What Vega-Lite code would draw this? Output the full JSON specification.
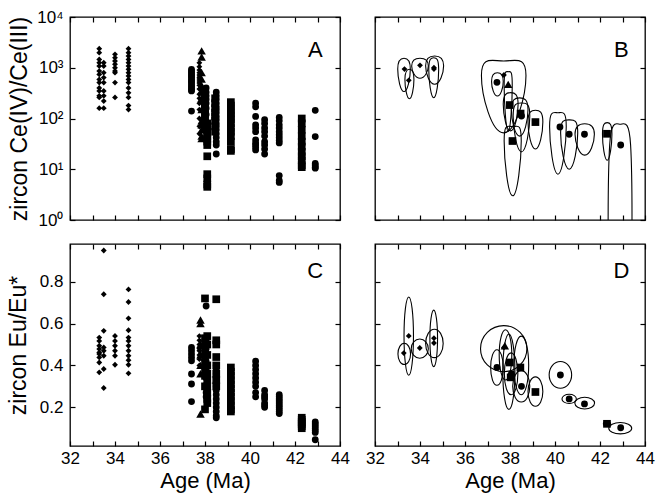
{
"$schema": "https://vega.github.io/schema/vega-lite/v6.json",
"padding": {"left": 6, "top": 7, "right": 2, "bottom": 2},
"config": {
 "font": "Liberation Sans",
 "view": {"stroke": "#000", "strokeWidth": 1.3},
 "axis": {"domain": false, "grid": false, "ticks": true, "tickColor": "#000", "tickWidth": 1.2, "tickSize": -5, "labelColor": "#000", "labelFontSize": 17, "labelFont": "Liberation Sans", "titleFont": "Liberation Sans", "titleFontSize": 22, "titleFontWeight": "normal", "titleColor": "#000", "labelFlush": false, "labelOverlap": false}
},
"datasets": {
 "tag": [{"n": 1}],
 "ce": [
  {"a":33.3,"v":2380,"g":"1"},{"a":33.3,"v":1980,"g":"1"},{"a":33.3,"v":1460,"g":"1"},{"a":33.3,"v":1260,"g":"1"},{"a":33.3,"v":1080,"g":"1"},{"a":33.3,"v":860,"g":"1"},{"a":33.3,"v":740,"g":"1"},{"a":33.3,"v":590,"g":"1"},{"a":33.3,"v":510,"g":"1"},{"a":33.3,"v":400,"g":"1"},{"a":33.3,"v":350,"g":"1"},{"a":33.3,"v":280,"g":"1"},{"a":33.3,"v":260,"g":"1"},{"a":33.3,"v":160,"g":"1"},
  {"a":33.5,"v":1260,"g":"1"},{"a":33.5,"v":1080,"g":"1"},{"a":33.5,"v":800,"g":"1"},{"a":33.5,"v":640,"g":"1"},{"a":33.5,"v":510,"g":"1"},{"a":33.5,"v":350,"g":"1"},{"a":33.5,"v":280,"g":"1"},{"a":33.5,"v":220,"g":"1"},{"a":33.5,"v":160,"g":"1"},
  {"a":34.0,"v":1840,"g":"1"},{"a":34.0,"v":1580,"g":"1"},{"a":34.0,"v":1360,"g":"1"},{"a":34.0,"v":1170,"g":"1"},{"a":34.0,"v":1000,"g":"1"},{"a":34.0,"v":860,"g":"1"},{"a":34.0,"v":800,"g":"1"},{"a":34.0,"v":510,"g":"1"},{"a":34.0,"v":260,"g":"1"},
  {"a":34.6,"v":2380,"g":"1"},{"a":34.6,"v":1980,"g":"1"},{"a":34.6,"v":1700,"g":"1"},{"a":34.6,"v":1460,"g":"1"},{"a":34.6,"v":1260,"g":"1"},{"a":34.6,"v":1080,"g":"1"},{"a":34.6,"v":930,"g":"1"},{"a":34.6,"v":800,"g":"1"},{"a":34.6,"v":690,"g":"1"},{"a":34.6,"v":590,"g":"1"},{"a":34.6,"v":510,"g":"1"},{"a":34.6,"v":400,"g":"1"},{"a":34.6,"v":320,"g":"1"},{"a":34.6,"v":260,"g":"1"},{"a":34.6,"v":180,"g":"1"},{"a":34.6,"v":150,"g":"1"},
  {"a":37.4,"v":930,"g":"2"},{"a":37.4,"v":860,"g":"2"},{"a":37.4,"v":800,"g":"2"},{"a":37.4,"v":740,"g":"2"},{"a":37.4,"v":690,"g":"2"},{"a":37.4,"v":640,"g":"2"},{"a":37.4,"v":590,"g":"2"},{"a":37.4,"v":550,"g":"2"},{"a":37.4,"v":510,"g":"2"},{"a":37.4,"v":470,"g":"2"},{"a":37.4,"v":430,"g":"2"},{"a":37.4,"v":400,"g":"2"},{"a":37.4,"v":370,"g":"2"},{"a":37.4,"v":350,"g":"2"},{"a":37.4,"v":140,"g":"2"},
  {"a":37.75,"v":1250,"g":"1"},{"a":37.75,"v":1050,"g":"1"},{"a":37.75,"v":900,"g":"1"},{"a":37.75,"v":800,"g":"1"},{"a":37.75,"v":720,"g":"1"},{"a":37.75,"v":650,"g":"1"},{"a":37.75,"v":600,"g":"1"},{"a":37.75,"v":550,"g":"1"},{"a":37.75,"v":500,"g":"1"},{"a":37.75,"v":450,"g":"1"},{"a":37.75,"v":380,"g":"1"},{"a":37.75,"v":300,"g":"1"},{"a":37.75,"v":250,"g":"1"},{"a":37.75,"v":200,"g":"1"},{"a":37.75,"v":150,"g":"1"},{"a":37.75,"v":100,"g":"1"},{"a":37.75,"v":70,"g":"1"},{"a":37.75,"v":50,"g":"1"},
  {"a":37.85,"v":2150,"g":"4"},{"a":37.85,"v":1630,"g":"4"},{"a":37.85,"v":800,"g":"4"},{"a":37.85,"v":600,"g":"4"},{"a":37.85,"v":450,"g":"4"},{"a":37.85,"v":350,"g":"4"},{"a":37.85,"v":250,"g":"4"},{"a":37.85,"v":150,"g":"4"},{"a":37.85,"v":90,"g":"4"},{"a":37.85,"v":75,"g":"4"},{"a":37.85,"v":60,"g":"4"},{"a":37.85,"v":45,"g":"4"},{"a":37.85,"v":40,"g":"4"},
  {"a":38.0,"v":350,"g":"3"},{"a":38.0,"v":300,"g":"3"},{"a":38.0,"v":260,"g":"3"},{"a":38.0,"v":230,"g":"3"},{"a":38.0,"v":200,"g":"3"},{"a":38.0,"v":180,"g":"3"},{"a":38.0,"v":160,"g":"3"},{"a":38.0,"v":140,"g":"3"},{"a":38.0,"v":120,"g":"3"},{"a":38.0,"v":100,"g":"3"},{"a":38.0,"v":85,"g":"3"},{"a":38.0,"v":70,"g":"3"},
  {"a":38.1,"v":80,"g":"3"},{"a":38.1,"v":60,"g":"3"},{"a":38.1,"v":50,"g":"3"},{"a":38.1,"v":45,"g":"3"},{"a":38.1,"v":40,"g":"3"},{"a":38.1,"v":35,"g":"3"},{"a":38.1,"v":30,"g":"3"},{"a":38.1,"v":18,"g":"3"},{"a":38.1,"v":8,"g":"3"},{"a":38.1,"v":6.6,"g":"3"},{"a":38.1,"v":5,"g":"3"},{"a":38.1,"v":4.5,"g":"3"},
  {"a":38.05,"v":400,"g":"2"},{"a":38.05,"v":330,"g":"2"},{"a":38.05,"v":280,"g":"2"},{"a":38.05,"v":240,"g":"2"},{"a":38.05,"v":200,"g":"2"},{"a":38.05,"v":160,"g":"2"},{"a":38.05,"v":120,"g":"2"},
  {"a":38.45,"v":250,"g":"3"},{"a":38.45,"v":200,"g":"3"},{"a":38.45,"v":160,"g":"3"},{"a":38.45,"v":130,"g":"3"},{"a":38.45,"v":110,"g":"3"},{"a":38.45,"v":90,"g":"3"},{"a":38.45,"v":70,"g":"3"},{"a":38.45,"v":55,"g":"3"},
  {"a":38.5,"v":330,"g":"2"},{"a":38.5,"v":280,"g":"2"},{"a":38.5,"v":240,"g":"2"},{"a":38.5,"v":200,"g":"2"},{"a":38.5,"v":170,"g":"2"},{"a":38.5,"v":150,"g":"2"},{"a":38.5,"v":130,"g":"2"},{"a":38.5,"v":110,"g":"2"},{"a":38.5,"v":95,"g":"2"},{"a":38.5,"v":80,"g":"2"},{"a":38.5,"v":70,"g":"2"},{"a":38.5,"v":60,"g":"2"},{"a":38.5,"v":50,"g":"2"},{"a":38.5,"v":42,"g":"2"},{"a":38.5,"v":35,"g":"2"},{"a":38.5,"v":30,"g":"2"},{"a":38.5,"v":20,"g":"2"},
  {"a":39.15,"v":210,"g":"3"},{"a":39.15,"v":180,"g":"3"},{"a":39.15,"v":150,"g":"3"},{"a":39.15,"v":130,"g":"3"},{"a":39.15,"v":110,"g":"3"},{"a":39.15,"v":95,"g":"3"},{"a":39.15,"v":80,"g":"3"},{"a":39.15,"v":65,"g":"3"},{"a":39.15,"v":55,"g":"3"},{"a":39.15,"v":45,"g":"3"},{"a":39.15,"v":35,"g":"3"},{"a":39.15,"v":25,"g":"3"},{"a":39.15,"v":23,"g":"3"},
  {"a":40.25,"v":200,"g":"2"},{"a":40.25,"v":170,"g":"2"},{"a":40.25,"v":110,"g":"2"},{"a":40.25,"v":75,"g":"2"},{"a":40.25,"v":65,"g":"2"},{"a":40.25,"v":55,"g":"2"},{"a":40.25,"v":38,"g":"2"},{"a":40.25,"v":33,"g":"2"},{"a":40.25,"v":30,"g":"2"},{"a":40.25,"v":27,"g":"2"},{"a":40.25,"v":24,"g":"2"},
  {"a":40.65,"v":95,"g":"2"},{"a":40.65,"v":80,"g":"2"},{"a":40.65,"v":65,"g":"2"},{"a":40.65,"v":55,"g":"2"},{"a":40.65,"v":45,"g":"2"},{"a":40.65,"v":35,"g":"2"},{"a":40.65,"v":30,"g":"2"},{"a":40.65,"v":25,"g":"2"},{"a":40.65,"v":20,"g":"2"},
  {"a":41.3,"v":105,"g":"2"},{"a":41.3,"v":90,"g":"2"},{"a":41.3,"v":75,"g":"2"},{"a":41.3,"v":65,"g":"2"},{"a":41.3,"v":55,"g":"2"},{"a":41.3,"v":48,"g":"2"},{"a":41.3,"v":42,"g":"2"},{"a":41.3,"v":37,"g":"2"},{"a":41.3,"v":33,"g":"2"},{"a":41.3,"v":7.5,"g":"2"},{"a":41.3,"v":6,"g":"2"},{"a":41.3,"v":5.5,"g":"2"},
  {"a":42.3,"v":100,"g":"3"},{"a":42.3,"v":80,"g":"3"},{"a":42.3,"v":60,"g":"3"},{"a":42.3,"v":45,"g":"3"},{"a":42.3,"v":35,"g":"3"},{"a":42.3,"v":28,"g":"3"},{"a":42.3,"v":22,"g":"3"},{"a":42.3,"v":18,"g":"3"},{"a":42.3,"v":15,"g":"3"},{"a":42.3,"v":12,"g":"3"},{"a":42.3,"v":11,"g":"3"},
  {"a":42.9,"v":145,"g":"2"},{"a":42.9,"v":44,"g":"2"},{"a":42.9,"v":13,"g":"2"},{"a":42.9,"v":12,"g":"2"},{"a":42.9,"v":11,"g":"2"},{"a":42.9,"v":10.5,"g":"2"}
 ],
 "eu": [
  {"a":33.3,"v":0.533,"g":"1"},{"a":33.3,"v":0.517,"g":"1"},{"a":33.3,"v":0.494,"g":"1"},{"a":33.3,"v":0.478,"g":"1"},{"a":33.3,"v":0.462,"g":"1"},{"a":33.3,"v":0.454,"g":"1"},{"a":33.3,"v":0.438,"g":"1"},{"a":33.3,"v":0.414,"g":"1"},{"a":33.3,"v":0.367,"g":"1"},
  {"a":33.5,"v":0.949,"g":"1"},{"a":33.5,"v":0.74,"g":"1"},{"a":33.5,"v":0.565,"g":"1"},{"a":33.5,"v":0.486,"g":"1"},{"a":33.5,"v":0.47,"g":"1"},{"a":33.5,"v":0.446,"g":"1"},{"a":33.5,"v":0.383,"g":"1"},{"a":33.5,"v":0.292,"g":"1"},
  {"a":34.0,"v":0.541,"g":"1"},{"a":34.0,"v":0.517,"g":"1"},{"a":34.0,"v":0.494,"g":"1"},{"a":34.0,"v":0.47,"g":"1"},{"a":34.0,"v":0.446,"g":"1"},{"a":34.0,"v":0.403,"g":"1"},
  {"a":34.6,"v":0.763,"g":"1"},{"a":34.6,"v":0.703,"g":"1"},{"a":34.6,"v":0.625,"g":"1"},{"a":34.6,"v":0.568,"g":"1"},{"a":34.6,"v":0.533,"g":"1"},{"a":34.6,"v":0.517,"g":"1"},{"a":34.6,"v":0.494,"g":"1"},{"a":34.6,"v":0.47,"g":"1"},{"a":34.6,"v":0.446,"g":"1"},{"a":34.6,"v":0.425,"g":"1"},{"a":34.6,"v":0.403,"g":"1"},{"a":34.6,"v":0.362,"g":"1"},
  {"a":37.4,"v":0.486,"g":"2"},{"a":37.4,"v":0.47,"g":"2"},{"a":37.4,"v":0.454,"g":"2"},{"a":37.4,"v":0.438,"g":"2"},{"a":37.4,"v":0.422,"g":"2"},{"a":37.4,"v":0.359,"g":"2"},{"a":37.4,"v":0.311,"g":"2"},{"a":37.4,"v":0.227,"g":"2"},
  {"a":37.75,"v":0.54,"g":"1"},{"a":37.75,"v":0.52,"g":"1"},{"a":37.75,"v":0.5,"g":"1"},{"a":37.75,"v":0.48,"g":"1"},{"a":37.75,"v":0.47,"g":"1"},{"a":37.75,"v":0.45,"g":"1"},{"a":37.75,"v":0.43,"g":"1"},{"a":37.75,"v":0.4,"g":"1"},
  {"a":37.8,"v":0.617,"g":"4"},{"a":37.8,"v":0.6,"g":"4"},{"a":37.8,"v":0.5,"g":"4"},{"a":37.8,"v":0.45,"g":"4"},{"a":37.8,"v":0.4,"g":"4"},{"a":37.8,"v":0.36,"g":"4"},{"a":37.8,"v":0.168,"g":"4"},
  {"a":38.0,"v":0.72,"g":"3"},{"a":38.0,"v":0.53,"g":"3"},{"a":38.0,"v":0.5,"g":"3"},{"a":38.0,"v":0.47,"g":"3"},{"a":38.0,"v":0.44,"g":"3"},{"a":38.0,"v":0.41,"g":"3"},{"a":38.0,"v":0.38,"g":"3"},{"a":38.0,"v":0.35,"g":"3"},{"a":38.0,"v":0.3,"g":"3"},{"a":38.0,"v":0.19,"g":"3"},
  {"a":38.1,"v":0.54,"g":"3"},{"a":38.1,"v":0.5,"g":"3"},{"a":38.1,"v":0.45,"g":"3"},{"a":38.1,"v":0.4,"g":"3"},{"a":38.1,"v":0.36,"g":"3"},{"a":38.1,"v":0.33,"g":"3"},{"a":38.1,"v":0.3,"g":"3"},{"a":38.1,"v":0.27,"g":"3"},{"a":38.1,"v":0.24,"g":"3"},{"a":38.1,"v":0.22,"g":"3"},
  {"a":38.05,"v":0.684,"g":"2"},{"a":38.05,"v":0.52,"g":"2"},{"a":38.05,"v":0.48,"g":"2"},{"a":38.05,"v":0.45,"g":"2"},{"a":38.05,"v":0.42,"g":"2"},{"a":38.05,"v":0.38,"g":"2"},{"a":38.05,"v":0.34,"g":"2"},{"a":38.05,"v":0.3,"g":"2"},{"a":38.05,"v":0.27,"g":"2"},{"a":38.05,"v":0.25,"g":"2"},
  {"a":38.5,"v":0.4,"g":"2"},{"a":38.5,"v":0.38,"g":"2"},{"a":38.5,"v":0.36,"g":"2"},{"a":38.5,"v":0.34,"g":"2"},{"a":38.5,"v":0.32,"g":"2"},{"a":38.5,"v":0.3,"g":"2"},{"a":38.5,"v":0.28,"g":"2"},{"a":38.5,"v":0.26,"g":"2"},{"a":38.5,"v":0.24,"g":"2"},{"a":38.5,"v":0.22,"g":"2"},{"a":38.5,"v":0.2,"g":"2"},{"a":38.5,"v":0.18,"g":"2"},{"a":38.5,"v":0.16,"g":"2"},{"a":38.5,"v":0.15,"g":"2"},
  {"a":38.5,"v":0.716,"g":"3"},{"a":38.5,"v":0.52,"g":"3"},{"a":38.5,"v":0.5,"g":"3"},{"a":38.5,"v":0.44,"g":"3"},{"a":38.5,"v":0.4,"g":"3"},{"a":38.5,"v":0.36,"g":"3"},{"a":38.5,"v":0.33,"g":"3"},{"a":38.5,"v":0.3,"g":"3"},
  {"a":39.15,"v":0.39,"g":"3"},{"a":39.15,"v":0.37,"g":"3"},{"a":39.15,"v":0.35,"g":"3"},{"a":39.15,"v":0.33,"g":"3"},{"a":39.15,"v":0.31,"g":"3"},{"a":39.15,"v":0.29,"g":"3"},{"a":39.15,"v":0.27,"g":"3"},{"a":39.15,"v":0.25,"g":"3"},{"a":39.15,"v":0.23,"g":"3"},{"a":39.15,"v":0.21,"g":"3"},{"a":39.15,"v":0.19,"g":"3"},{"a":39.15,"v":0.18,"g":"3"},
  {"a":40.25,"v":0.42,"g":"2"},{"a":40.25,"v":0.4,"g":"2"},{"a":40.25,"v":0.38,"g":"2"},{"a":40.25,"v":0.36,"g":"2"},{"a":40.25,"v":0.34,"g":"2"},{"a":40.25,"v":0.32,"g":"2"},{"a":40.25,"v":0.3,"g":"2"},{"a":40.25,"v":0.27,"g":"2"},{"a":40.25,"v":0.25,"g":"2"},
  {"a":40.65,"v":0.28,"g":"2"},{"a":40.65,"v":0.26,"g":"2"},{"a":40.65,"v":0.25,"g":"2"},{"a":40.65,"v":0.24,"g":"2"},{"a":40.65,"v":0.22,"g":"2"},{"a":40.65,"v":0.21,"g":"2"},{"a":40.65,"v":0.2,"g":"2"},
  {"a":41.3,"v":0.26,"g":"2"},{"a":41.3,"v":0.25,"g":"2"},{"a":41.3,"v":0.24,"g":"2"},{"a":41.3,"v":0.23,"g":"2"},{"a":41.3,"v":0.22,"g":"2"},{"a":41.3,"v":0.21,"g":"2"},{"a":41.3,"v":0.2,"g":"2"},{"a":41.3,"v":0.19,"g":"2"},{"a":41.3,"v":0.18,"g":"2"},{"a":41.3,"v":0.17,"g":"2"},
  {"a":42.3,"v":0.15,"g":"3"},{"a":42.3,"v":0.14,"g":"3"},{"a":42.3,"v":0.13,"g":"3"},{"a":42.3,"v":0.12,"g":"3"},{"a":42.3,"v":0.11,"g":"3"},{"a":42.3,"v":0.1,"g":"3"},
  {"a":42.9,"v":0.13,"g":"2"},{"a":42.9,"v":0.12,"g":"2"},{"a":42.9,"v":0.11,"g":"2"},{"a":42.9,"v":0.1,"g":"2"},{"a":42.9,"v":0.09,"g":"2"},{"a":42.9,"v":0.08,"g":"2"},{"a":42.9,"v":0.045,"g":"2"}
 ],
 "ceMean": [
  {"a":33.31,"v":940,"g":"1"},{"a":33.5,"v":566,"g":"1"},{"a":34.0,"v":1117,"g":"1"},{"a":34.62,"v":940,"g":"1"},{"a":34.62,"v":1000,"g":"1"},
  {"a":37.42,"v":516,"g":"2"},{"a":37.73,"v":720,"g":"1"},{"a":37.92,"v":471,"g":"4"},{"a":37.99,"v":184,"g":"3"},{"a":38.11,"v":36,"g":"3"},
  {"a":38.51,"v":112,"g":"2"},{"a":38.47,"v":125,"g":"3"},{"a":39.13,"v":85,"g":"3"},{"a":40.22,"v":68,"g":"2"},{"a":40.63,"v":49,"g":"2"},
  {"a":41.31,"v":49,"g":"2"},{"a":42.31,"v":50,"g":"3"},{"a":42.92,"v":30,"g":"2"}
 ],
 "euMean": [
  {"a":33.28,"v":0.459,"g":"1"},{"a":33.5,"v":0.541,"g":"1"},{"a":33.99,"v":0.483,"g":"1"},{"a":34.62,"v":0.53,"g":"1"},{"a":34.62,"v":0.507,"g":"1"},
  {"a":37.42,"v":0.39,"g":"2"},{"a":37.73,"v":0.486,"g":"1"},{"a":37.77,"v":0.494,"g":"4"},{"a":37.99,"v":0.414,"g":"3"},{"a":38.03,"v":0.343,"g":"3"},{"a":38.06,"v":0.36,"g":"2"},
  {"a":38.51,"v":0.3,"g":"2"},{"a":38.46,"v":0.39,"g":"3"},{"a":39.13,"v":0.273,"g":"3"},{"a":40.24,"v":0.354,"g":"2"},{"a":40.63,"v":0.24,"g":"2"},
  {"a":41.31,"v":0.216,"g":"2"},{"a":42.31,"v":0.121,"g":"3"},{"a":42.92,"v":0.102,"g":"2"}
 ],
 "ceEll": [
  {"e":"E1","k":1,"a":33.29,"v":1540},{"e":"E1","k":2,"a":33.57,"v":940},{"e":"E1","k":3,"a":33.29,"v":340},{"e":"E1","k":4,"a":33.01,"v":940},
  {"e":"E2","k":1,"a":33.53,"v":935},{"e":"E2","k":2,"a":33.73,"v":590},{"e":"E2","k":3,"a":33.53,"v":245},{"e":"E2","k":4,"a":33.33,"v":590},
  {"e":"E3","k":1,"a":34.0,"v":1536},{"e":"E3","k":2,"a":34.37,"v":1078},{"e":"E3","k":3,"a":34.0,"v":620},{"e":"E3","k":4,"a":33.63,"v":1078},
  {"e":"E4","k":1,"a":34.61,"v":1577},{"e":"E4","k":2,"a":34.83,"v":917},{"e":"E4","k":3,"a":34.61,"v":257},{"e":"E4","k":4,"a":34.39,"v":917},
  {"e":"E5","k":1,"a":34.65,"v":1706},{"e":"E5","k":2,"a":35.05,"v":1089},{"e":"E5","k":3,"a":34.65,"v":472},{"e":"E5","k":4,"a":34.25,"v":1089},
  {"e":"E6","k":1,"a":37.44,"v":798},{"e":"E6","k":2,"a":37.7,"v":538},{"e":"E6","k":3,"a":37.44,"v":278},{"e":"E6","k":4,"a":37.18,"v":538},
  {"e":"E7","k":1,"a":37.72,"v":1360},{"e":"E7","k":2,"a":38.71,"v":706},{"e":"E7","k":3,"a":37.72,"v":52},{"e":"E7","k":4,"a":36.73,"v":706},
  {"e":"E8","k":1,"a":37.92,"v":836},{"e":"E8","k":2,"a":38.1,"v":446},{"e":"E8","k":3,"a":37.92,"v":56},{"e":"E8","k":4,"a":37.74,"v":446},
  {"e":"E9","k":1,"a":38.03,"v":323},{"e":"E9","k":2,"a":38.36,"v":190},{"e":"E9","k":3,"a":38.03,"v":57},{"e":"E9","k":4,"a":37.7,"v":190},
  {"e":"E10","k":1,"a":38.12,"v":69},{"e":"E10","k":2,"a":38.5,"v":36},{"e":"E10","k":3,"a":38.12,"v":3},{"e":"E10","k":4,"a":37.74,"v":36},
  {"e":"E11","k":1,"a":38.51,"v":202},{"e":"E11","k":2,"a":38.88,"v":112},{"e":"E11","k":3,"a":38.51,"v":22},{"e":"E11","k":4,"a":38.14,"v":112},
  {"e":"E12","k":1,"a":38.43,"v":255},{"e":"E12","k":2,"a":38.8,"v":150},{"e":"E12","k":3,"a":38.43,"v":45},{"e":"E12","k":4,"a":38.06,"v":150},
  {"e":"E13","k":1,"a":39.13,"v":145},{"e":"E13","k":2,"a":39.46,"v":85},{"e":"E13","k":3,"a":39.13,"v":25},{"e":"E13","k":4,"a":38.8,"v":85},
  {"e":"E14","k":1,"a":40.13,"v":130},{"e":"E14","k":2,"a":40.5,"v":69},{"e":"E14","k":3,"a":40.13,"v":8},{"e":"E14","k":4,"a":39.76,"v":69},
  {"e":"E15","k":1,"a":40.63,"v":94},{"e":"E15","k":2,"a":41.01,"v":52},{"e":"E15","k":3,"a":40.63,"v":10},{"e":"E15","k":4,"a":40.25,"v":52},
  {"e":"E16","k":1,"a":41.32,"v":79},{"e":"E16","k":2,"a":41.75,"v":49},{"e":"E16","k":3,"a":41.32,"v":19},{"e":"E16","k":4,"a":40.89,"v":49},
  {"e":"E17","k":1,"a":42.32,"v":83},{"e":"E17","k":2,"a":42.53,"v":49},{"e":"E17","k":3,"a":42.32,"v":15},{"e":"E17","k":4,"a":42.11,"v":49}
 ],
 "ceOpen": [
  {"e":"E18","k":1,"a":42.9,"v":77},{"e":"E18","k":2,"a":43.36,"v":30},{"e":"E18","k":3,"a":43.32,"v":0.05},{"e":"E18","k":4,"a":42.46,"v":0.05},{"e":"E18","k":5,"a":42.43,"v":30}
 ],
 "euEll": [
  {"e":"F1","k":1,"a":33.3,"v":0.506},{"e":"F1","k":2,"a":33.58,"v":0.455},{"e":"F1","k":3,"a":33.3,"v":0.404},{"e":"F1","k":4,"a":33.02,"v":0.455},
  {"e":"F2","k":1,"a":33.5,"v":0.727},{"e":"F2","k":2,"a":33.71,"v":0.54},{"e":"F2","k":3,"a":33.5,"v":0.353},{"e":"F2","k":4,"a":33.29,"v":0.54},
  {"e":"F3","k":1,"a":33.99,"v":0.526},{"e":"F3","k":2,"a":34.37,"v":0.48},{"e":"F3","k":3,"a":33.99,"v":0.434},{"e":"F3","k":4,"a":33.61,"v":0.48},
  {"e":"F4","k":1,"a":34.61,"v":0.664},{"e":"F4","k":2,"a":34.78,"v":0.529},{"e":"F4","k":3,"a":34.61,"v":0.394},{"e":"F4","k":4,"a":34.44,"v":0.529},
  {"e":"F5","k":1,"a":34.64,"v":0.573},{"e":"F5","k":2,"a":35.03,"v":0.505},{"e":"F5","k":3,"a":34.64,"v":0.437},{"e":"F5","k":4,"a":34.25,"v":0.505},
  {"e":"F6","k":1,"a":37.42,"v":0.475},{"e":"F6","k":2,"a":37.7,"v":0.39},{"e":"F6","k":3,"a":37.42,"v":0.305},{"e":"F6","k":4,"a":37.14,"v":0.39},
  {"e":"F7","k":1,"a":37.72,"v":0.59},{"e":"F7","k":2,"a":38.75,"v":0.48},{"e":"F7","k":3,"a":37.72,"v":0.37},{"e":"F7","k":4,"a":36.69,"v":0.48},
  {"e":"F8","k":1,"a":37.8,"v":0.57},{"e":"F8","k":2,"a":38.08,"v":0.45},{"e":"F8","k":3,"a":37.8,"v":0.33},{"e":"F8","k":4,"a":37.52,"v":0.45},
  {"e":"F9","k":1,"a":37.95,"v":0.55},{"e":"F9","k":2,"a":38.22,"v":0.37},{"e":"F9","k":3,"a":37.95,"v":0.19},{"e":"F9","k":4,"a":37.68,"v":0.37},
  {"e":"F10","k":1,"a":38.05,"v":0.46},{"e":"F10","k":2,"a":38.35,"v":0.36},{"e":"F10","k":3,"a":38.05,"v":0.26},{"e":"F10","k":4,"a":37.75,"v":0.36},
  {"e":"F11","k":1,"a":38.5,"v":0.375},{"e":"F11","k":2,"a":38.88,"v":0.3},{"e":"F11","k":3,"a":38.5,"v":0.225},{"e":"F11","k":4,"a":38.12,"v":0.3},
  {"e":"F12","k":1,"a":38.5,"v":0.54},{"e":"F12","k":2,"a":38.83,"v":0.4},{"e":"F12","k":3,"a":38.5,"v":0.26},{"e":"F12","k":4,"a":38.17,"v":0.4},
  {"e":"F13","k":1,"a":39.13,"v":0.345},{"e":"F13","k":2,"a":39.46,"v":0.275},{"e":"F13","k":3,"a":39.13,"v":0.205},{"e":"F13","k":4,"a":38.8,"v":0.275},
  {"e":"F14","k":1,"a":40.24,"v":0.419},{"e":"F14","k":2,"a":40.74,"v":0.355},{"e":"F14","k":3,"a":40.24,"v":0.291},{"e":"F14","k":4,"a":39.74,"v":0.355},
  {"e":"F15","k":1,"a":40.63,"v":0.262},{"e":"F15","k":2,"a":40.95,"v":0.24},{"e":"F15","k":3,"a":40.63,"v":0.218},{"e":"F15","k":4,"a":40.31,"v":0.24},
  {"e":"F16","k":1,"a":41.32,"v":0.248},{"e":"F16","k":2,"a":41.76,"v":0.22},{"e":"F16","k":3,"a":41.32,"v":0.192},{"e":"F16","k":4,"a":40.88,"v":0.22},
  {"e":"F17","k":1,"a":42.31,"v":0.133},{"e":"F17","k":2,"a":42.47,"v":0.121},{"e":"F17","k":3,"a":42.31,"v":0.109},{"e":"F17","k":4,"a":42.15,"v":0.121},
  {"e":"F18","k":1,"a":42.9,"v":0.127},{"e":"F18","k":2,"a":43.41,"v":0.1},{"e":"F18","k":3,"a":42.9,"v":0.073},{"e":"F18","k":4,"a":42.39,"v":0.1}
 ]
},
"columns": 2,
"spacing": {"row": 24, "column": 35},
"bounds": "flush",
"concat": [
 {
  "width": 270, "height": 203,
  "layer": [
   {"data": {"name": "ce"}, "mark": {"type": "point", "filled": true, "opacity": 1, "color": "#000", "strokeWidth": 0},
    "encoding": {
     "x": {"field": "a", "type": "quantitative", "scale": {"domain": [32, 44], "nice": false, "zero": false}, "axis": {"orient": "bottom", "values": [32,33,34,35,36,37,38,39,40,41,42,43,44], "labels": false, "title": null}},
     "y": {"field": "v", "type": "quantitative", "scale": {"type": "log", "domain": [1, 10000], "nice": false}, "axis": {"orient": "left", "values": [1,10,100,1000,10000], "labelPadding": 12, "titlePadding": 5, "titleFontSize": 23, "labelExpr": "datum.value == 1 ? '10⁰' : datum.value == 10 ? '10¹' : datum.value == 100 ? '10²' : datum.value == 1000 ? '10³' : '10⁴'", "title": "zircon Ce(IV)/Ce(III)"}},
     "shape": {"field": "g", "type": "nominal", "scale": {"domain": ["1","2","3","4"], "range": ["diamond","circle","square","triangle-up"]}, "legend": null},
     "size": {"field": "g", "type": "nominal", "scale": {"domain": ["1","2","3","4"], "range": [34, 72, 56, 48]}, "legend": null}
    }},
   {"data": {"name": "tag"}, "mark": {"type": "text", "fontSize": 22, "font": "Liberation Sans", "align": "center", "baseline": "alphabetic", "color": "#000"},
    "encoding": {
     "x": {"datum": 42.9, "type": "quantitative", "scale": {"domain": [32, 44], "nice": false, "zero": false}, "axis": {"orient": "top", "values": [32,33,34,35,36,37,38,39,40,41,42,43,44], "labels": false, "title": null}},
     "y": {"datum": 1630, "type": "quantitative", "axis": {"orient": "right", "values": [1,10,100,1000,10000], "labels": false, "title": null}},
     "text": {"value": "A"}
    }}
  ],
  "resolve": {"axis": {"x": "independent", "y": "independent"}}
 },
 {
  "width": 270, "height": 203,
  "layer": [
   {"data": {"name": "ceEll"}, "mark": {"type": "line", "interpolate": "cardinal-closed", "tension": -0.657, "color": "#000", "strokeWidth": 1.1, "clip": true},
    "encoding": {
     "x": {"field": "a", "type": "quantitative", "scale": {"domain": [32, 44], "nice": false, "zero": false}, "axis": null},
     "y": {"field": "v", "type": "quantitative", "scale": {"type": "log", "domain": [1, 10000], "nice": false}, "axis": null},
     "detail": {"field": "e"}, "order": {"field": "k"}
    }},
   {"data": {"name": "ceOpen"}, "mark": {"type": "line", "interpolate": "cardinal-closed", "tension": 0, "color": "#000", "strokeWidth": 1.1, "clip": true},
    "encoding": {
     "x": {"field": "a", "type": "quantitative", "scale": {"domain": [32, 44], "nice": false, "zero": false}, "axis": null},
     "y": {"field": "v", "type": "quantitative", "scale": {"type": "log", "domain": [1, 10000], "nice": false}, "axis": null},
     "detail": {"field": "e"}, "order": {"field": "k"}
    }},
   {"data": {"name": "ceMean"}, "mark": {"type": "point", "filled": true, "opacity": 1, "color": "#000", "strokeWidth": 0},
    "encoding": {
     "x": {"field": "a", "type": "quantitative", "scale": {"domain": [32, 44], "nice": false, "zero": false}, "axis": {"orient": "bottom", "values": [32,33,34,35,36,37,38,39,40,41,42,43,44], "labels": false, "title": null}},
     "y": {"field": "v", "type": "quantitative", "scale": {"type": "log", "domain": [1, 10000], "nice": false}, "axis": {"orient": "left", "values": [1,10,100,1000,10000], "labels": false, "title": null}},
     "shape": {"field": "g", "type": "nominal", "scale": {"domain": ["1","2","3","4"], "range": ["diamond","circle","square","triangle-up"]}, "legend": null},
     "size": {"field": "g", "type": "nominal", "scale": {"domain": ["1","2","3","4"], "range": [34, 72, 56, 48]}, "legend": null}
    }},
   {"data": {"name": "tag"}, "mark": {"type": "text", "fontSize": 22, "font": "Liberation Sans", "align": "center", "baseline": "alphabetic", "color": "#000"},
    "encoding": {
     "x": {"datum": 42.95, "type": "quantitative", "axis": {"orient": "top", "values": [32,33,34,35,36,37,38,39,40,41,42,43,44], "labels": false, "title": null}},
     "y": {"datum": 1630, "type": "quantitative", "axis": {"orient": "right", "values": [1,10,100,1000,10000], "labels": false, "title": null}},
     "text": {"value": "B"}
    }}
  ],
  "resolve": {"axis": {"x": "independent", "y": "independent"}}
 },
 {
  "width": 270, "height": 202,
  "layer": [
   {"data": {"name": "eu"}, "mark": {"type": "point", "filled": true, "opacity": 1, "color": "#000", "strokeWidth": 0},
    "encoding": {
     "x": {"field": "a", "type": "quantitative", "scale": {"domain": [32, 44], "nice": false, "zero": false}, "axis": {"orient": "bottom", "values": [32,33,34,35,36,37,38,39,40,41,42,43,44], "labelExpr": "datum.value % 2 == 0 ? datum.label : ''", "labelPadding": 9, "titlePadding": 4, "title": "Age (Ma)"}},
     "y": {"field": "v", "type": "quantitative", "scale": {"domain": [0.015, 0.98], "nice": false, "zero": false}, "axis": {"orient": "left", "values": [0.2, 0.4, 0.6, 0.8], "format": ".1f", "labelPadding": 12, "titlePadding": 9, "titleFontSize": 23, "title": "zircon Eu/Eu*"}},
     "shape": {"field": "g", "type": "nominal", "scale": {"domain": ["1","2","3","4"], "range": ["diamond","circle","square","triangle-up"]}, "legend": null},
     "size": {"field": "g", "type": "nominal", "scale": {"domain": ["1","2","3","4"], "range": [34, 72, 56, 48]}, "legend": null}
    }},
   {"data": {"name": "tag"}, "mark": {"type": "text", "fontSize": 22, "font": "Liberation Sans", "align": "center", "baseline": "alphabetic", "color": "#000"},
    "encoding": {
     "x": {"datum": 42.9, "type": "quantitative", "axis": {"orient": "top", "values": [32,33,34,35,36,37,38,39,40,41,42,43,44], "labels": false, "title": null}},
     "y": {"datum": 0.818, "type": "quantitative", "axis": {"orient": "right", "values": [0.2, 0.4, 0.6, 0.8], "labels": false, "title": null}},
     "text": {"value": "C"}
    }}
  ],
  "resolve": {"axis": {"x": "independent", "y": "independent"}}
 },
 {
  "width": 270, "height": 202,
  "layer": [
   {"data": {"name": "euEll"}, "mark": {"type": "line", "interpolate": "cardinal-closed", "tension": -0.657, "color": "#000", "strokeWidth": 1.1, "clip": true},
    "encoding": {
     "x": {"field": "a", "type": "quantitative", "scale": {"domain": [32, 44], "nice": false, "zero": false}, "axis": null},
     "y": {"field": "v", "type": "quantitative", "scale": {"domain": [0.015, 0.98], "nice": false, "zero": false}, "axis": null},
     "detail": {"field": "e"}, "order": {"field": "k"}
    }},
   {"data": {"name": "euMean"}, "mark": {"type": "point", "filled": true, "opacity": 1, "color": "#000", "strokeWidth": 0},
    "encoding": {
     "x": {"field": "a", "type": "quantitative", "scale": {"domain": [32, 44], "nice": false, "zero": false}, "axis": {"orient": "bottom", "values": [32,33,34,35,36,37,38,39,40,41,42,43,44], "labelExpr": "datum.value % 2 == 0 ? datum.label : ''", "labelPadding": 9, "titlePadding": 4, "title": "Age (Ma)"}},
     "y": {"field": "v", "type": "quantitative", "scale": {"domain": [0.015, 0.98], "nice": false, "zero": false}, "axis": {"orient": "left", "values": [0.2, 0.4, 0.6, 0.8], "labels": false, "title": null}},
     "shape": {"field": "g", "type": "nominal", "scale": {"domain": ["1","2","3","4"], "range": ["diamond","circle","square","triangle-up"]}, "legend": null},
     "size": {"field": "g", "type": "nominal", "scale": {"domain": ["1","2","3","4"], "range": [34, 72, 56, 48]}, "legend": null}
    }},
   {"data": {"name": "tag"}, "mark": {"type": "text", "fontSize": 22, "font": "Liberation Sans", "align": "center", "baseline": "alphabetic", "color": "#000"},
    "encoding": {
     "x": {"datum": 42.95, "type": "quantitative", "axis": {"orient": "top", "values": [32,33,34,35,36,37,38,39,40,41,42,43,44], "labels": false, "title": null}},
     "y": {"datum": 0.818, "type": "quantitative", "axis": {"orient": "right", "values": [0.2, 0.4, 0.6, 0.8], "labels": false, "title": null}},
     "text": {"value": "D"}
    }}
  ],
  "resolve": {"axis": {"x": "independent", "y": "independent"}}
 }
]
}
